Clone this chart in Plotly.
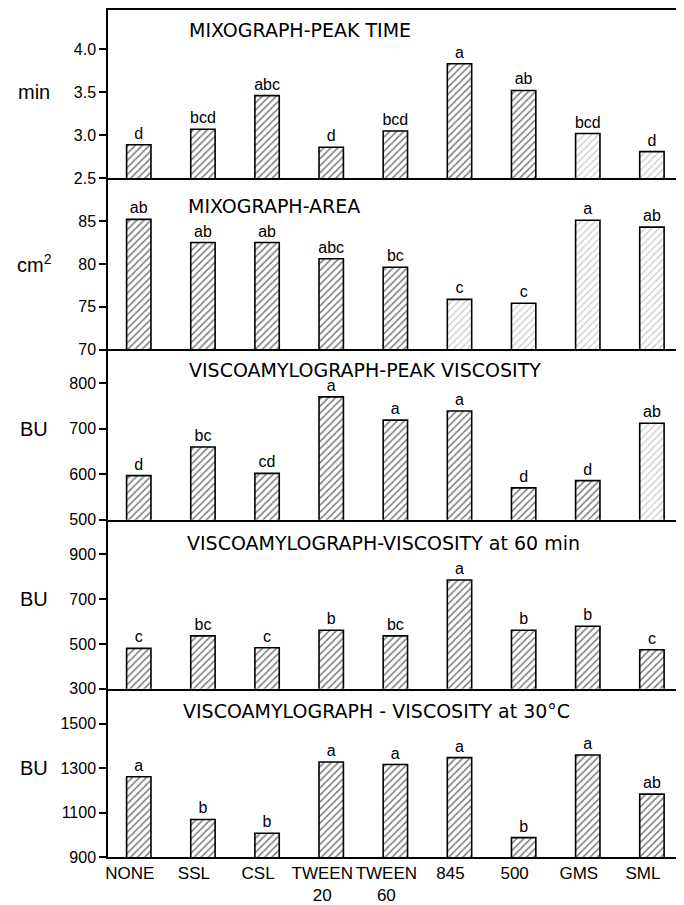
import plotly.graph_objects as go

categories = ["NONE", "SSL", "CSL", "TWEEN 20", "TWEEN 60", "845", "500", "GMS", "SML"]
tick_labels = ["NONE", "SSL", "CSL", "TWEEN<br>20", "TWEEN<br>60", "845", "500", "GMS", "SML"]

peak_time = [2.89, 3.07, 3.46, 2.86, 3.05, 3.83, 3.52, 3.02, 2.81]
peak_time_letters = ["d", "bcd", "abc", "d", "bcd", "a", "ab", "bcd", "d"]

area = [85.2, 82.5, 82.5, 80.6, 79.6, 75.85, 75.4, 85.1, 84.3]
area_letters = ["ab", "ab", "ab", "abc", "bc", "c", "c", "a", "ab"]

peak_visc = [597, 660, 602, 770, 719, 739, 570, 586, 712]
peak_visc_letters = ["d", "bc", "cd", "a", "a", "a", "d", "d", "ab"]

visc_60 = [480, 536, 483, 561, 536, 785, 561, 579, 474]
visc_60_letters = ["c", "bc", "c", "b", "bc", "a", "b", "b", "c"]

visc_30 = [1261, 1069, 1007, 1327, 1316, 1347, 987, 1359, 1183]
visc_30_letters = ["a", "b", "b", "a", "a", "a", "b", "a", "ab"]

titles = [
    "MIXOGRAPH-PEAK TIME",
    "MIXOGRAPH-AREA",
    "VISCOAMYLOGRAPH-PEAK VISCOSITY",
    "VISCOAMYLOGRAPH-VISCOSITY at 60 min",
    "VISCOAMYLOGRAPH - VISCOSITY at 30°C",
]
units = ["min", "cm<sup>2</sup>", "BU", "BU", "BU"]
y_ticks = [
    [2.5, 3.0, 3.5, 4.0],
    [70, 75, 80, 85],
    [500, 600, 700, 800],
    [300, 500, 700, 900],
    [900, 1100, 1300, 1500],
]
y_ticktext = [
    ["2.5", "3.0", "3.5", "4.0"],
    ["70", "75", "80", "85"],
    ["500", "600", "700", "800"],
    ["300", "500", "700", "900"],
    ["900", "1100", "1300", "1500"],
]
unit_at = [3.5, 80, 700, 700, 1300]

# style: 0 = dense hatch, 1 = light stippled hatch
hatch_style = [
    [0, 0, 0, 0, 0, 0, 0, 1, 1],
    [0, 0, 0, 0, 0, 1, 1, 1, 1],
    [0, 0, 0, 0, 0, 0, 0, 0, 1],
    [0, 0, 0, 0, 0, 0, 0, 0, 0],
    [0, 0, 0, 0, 0, 0, 0, 0, 0],
]

series = [peak_time, area, peak_visc, visc_60, visc_30]
letters = [peak_time_letters, area_letters, peak_visc_letters, visc_60_letters, visc_30_letters]
y_ranges = [[2.5, 4.455], [70, 90.0], [500, 874], [300, 1054], [900, 1657]]

# layout geometry (page pixels; the page body adds an 8px offset)
OFF = 8
W, H = 684 - OFF, 905 - OFF
ML, MR, MT, MB = 108 - OFF, 0, 0, 48
plot_w = W - ML - MR
plot_h = H - MT - MB
panel_edges = [8, 176.7, 348.3, 519, 688.3, 857.3]  # page y of panel borders
title_px = [28, 204, 369, 542, 711]                  # page y of title centres
title_x = [188, 187, 188, 186, 182]                  # page x of title left edges

FONT = "Liberation Sans, Arial, sans-serif"
TFONT = "DejaVu Sans, sans-serif"


def to_dom(page_y):
    return 1 - (page_y - OFF - MT) / plot_h


fig = go.Figure()
layout = dict(
    width=W, height=H,
    margin=dict(l=ML, r=MR, t=MT, b=MB, pad=0),
    paper_bgcolor="white", plot_bgcolor="white",
    showlegend=False,
    font=dict(family=FONT, color="black", size=16),
    annotations=[],
)

n = 5
for i in range(n):
    k = i + 1
    xa = "x" if k == 1 else f"x{k}"
    ya = "y" if k == 1 else f"y{k}"
    yr = f"y{k + 5}"
    fg = ["black" if s == 0 else "#8a8a8a" for s in hatch_style[i]]
    sol = [0.32 if s == 0 else 0.22 for s in hatch_style[i]]
    fig.add_trace(go.Bar(
        x=categories, y=series[i], xaxis=xa, yaxis=ya,
        width=0.38,
        marker=dict(
            color="white",
            line=dict(color="black", width=1.6),
            pattern=dict(shape="/", fgcolor=fg, bgcolor="white", size=5, solidity=sol),
        ),
        text=letters[i], textposition="outside", cliponaxis=False,
        textfont=dict(size=16, family=FONT, color="black"),
        constraintext="none",
        hoverinfo="skip",
    ))
    fig.add_trace(go.Scatter(
        x=categories, y=series[i], xaxis=xa, yaxis=yr, mode="markers",
        marker=dict(opacity=0), hoverinfo="skip", showlegend=False,
    ))
    top = min(to_dom(panel_edges[i]), 1.0)
    bot = max(to_dom(panel_edges[i + 1]), 0.0)
    xkey = "xaxis" if k == 1 else f"xaxis{k}"
    ykey = "yaxis" if k == 1 else f"yaxis{k}"
    layout[xkey] = dict(
        type="category", range=[-0.48, 8.5], domain=[0, 1], anchor=ya,
        showline=True, linecolor="black", linewidth=1.5,
        mirror=(k == 1), ticks="", showgrid=False, zeroline=False,
        showticklabels=(k == n),
        tickvals=categories, ticktext=tick_labels,
        tickfont=dict(size=17, family=FONT, color="black"),
        ticklabelshift=-9 if k == n else 0,
    )
    if k != 1:
        layout[xkey]["matches"] = "x"
    layout[ykey] = dict(
        domain=[bot, top], anchor=xa, range=y_ranges[i],
        tickvals=y_ticks[i], ticktext=y_ticktext[i],
        ticks="outside", ticklen=7, tickwidth=1.5, tickcolor="black",
        showline=True, linecolor="black", linewidth=1.5,
        showgrid=False, zeroline=False,
        tickfont=dict(size=16, family=FONT, color="black"),
    )
    layout[f"yaxis{k + 5}"] = dict(
        overlaying=ya, anchor=xa, side="right", range=y_ranges[i],
        tickvals=y_ticks[i], ticks="inside", ticklen=7, tickwidth=1.5, tickcolor="black",
        showticklabels=False, showline=False, showgrid=False, zeroline=False,
    )
    layout["annotations"].append(dict(
        text=titles[i], xref="paper", yref="paper",
        x=(title_x[i] - OFF - ML) / plot_w, y=to_dom(title_px[i]),
        xanchor="left", yanchor="middle", borderpad=0,
        showarrow=False, font=dict(size=19, family=TFONT, color="black"),
    ))
    layout["annotations"].append(dict(
        text=units[i], xref="paper", yref=ya, x=0, xshift=-74, y=unit_at[i],
        xanchor="center", yanchor="middle", showarrow=False,
        font=dict(size=20, family=FONT, color="black"),
    ))

fig.update_layout(**layout)
fig.write_html("out.html")
